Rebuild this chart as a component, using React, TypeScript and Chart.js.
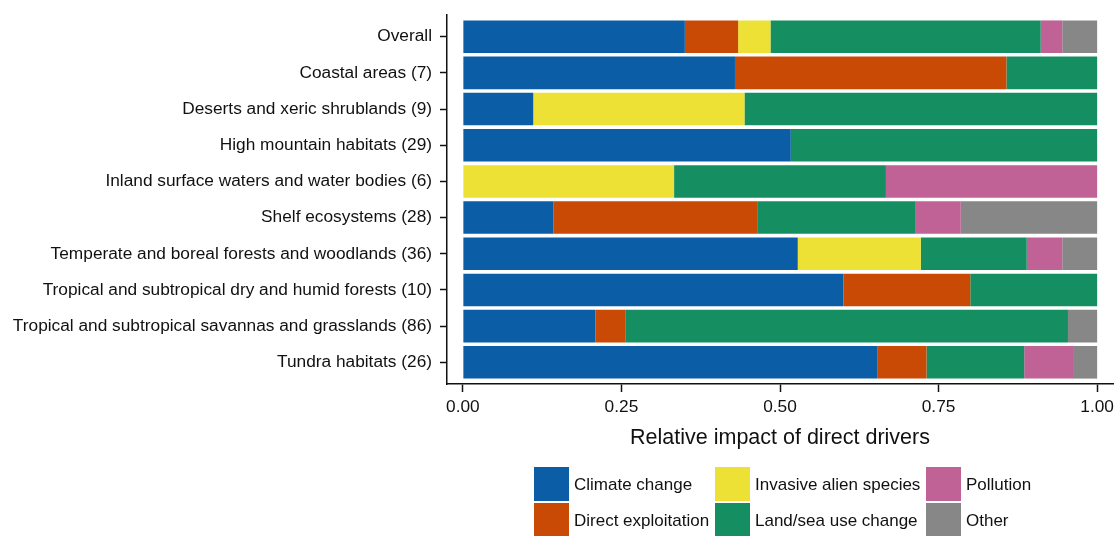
import React, { useEffect, useRef } from "react";
import { Chart, registerables } from "chart.js";

Chart.register(...registerables);

const categories = [
  "Overall",
  "Coastal areas (7)",
  "Deserts and xeric shrublands (9)",
  "High mountain habitats (29)",
  "Inland surface waters and water bodies (6)",
  "Shelf ecosystems (28)",
  "Temperate and boreal forests and woodlands (36)",
  "Tropical and subtropical dry and humid forests (10)",
  "Tropical and subtropical savannas and grasslands (86)",
  "Tundra habitats (26)",
];

const climateChange = [0.35, 0.429, 0.111, 0.517, 0, 0.143, 0.528, 0.6, 0.209, 0.654];
const directExploitation = [0.084, 0.428, 0, 0, 0, 0.321, 0, 0.2, 0.047, 0.077];
const invasiveAlienSpecies = [0.051, 0, 0.333, 0, 0.333, 0, 0.194, 0, 0, 0];
const landSeaUseChange = [0.426, 0.143, 0.556, 0.483, 0.334, 0.25, 0.167, 0.2, 0.698, 0.154];
const pollution = [0.034, 0, 0, 0, 0.333, 0.071, 0.056, 0, 0, 0.077];
const other = [0.055, 0, 0, 0, 0, 0.215, 0.055, 0, 0.046, 0.038];

const seriesNames = [
  "Climate change",
  "Direct exploitation",
  "Invasive alien species",
  "Land/sea use change",
  "Pollution",
  "Other",
];
const seriesColors = ["#0b5ea5", "#c94a04", "#ece134", "#158f62", "#c06296", "#878787"];
const xTickValues = [0, 0.25, 0.5, 0.75, 1];
const xTitle = "Relative impact of direct drivers";

const FONT = "'Liberation Sans', Arial, Helvetica, sans-serif";
const TEXT = "#111111";

const legendPlugin = {
  id: "gridLegend",
  afterDraw(chart: any) {
    const ctx = chart.ctx;
    const colX = [534, 715, 926];
    const rowY = [467, 503];
    const w = 35;
    const h = 34;
    ctx.save();
    ctx.font = `17px ${FONT}`;
    ctx.textBaseline = "middle";
    ctx.textAlign = "left";
    chart.data.datasets.forEach((ds: any, i: number) => {
      const c = Math.floor(i / 2);
      const r = i % 2;
      const x = colX[c];
      const y = rowY[r];
      ctx.fillStyle = ds.backgroundColor;
      ctx.fillRect(x, y, w, h);
      ctx.fillStyle = TEXT;
      ctx.fillText(ds.label, x + w + 5, y + h / 2 + 1);
    });
    ctx.restore();
  },
};

export default function App() {
  const canvasRef = useRef<HTMLCanvasElement | null>(null);

  useEffect(() => {
    const canvas = canvasRef.current;
    if (!canvas) return;
    const seriesValues = [
      climateChange,
      directExploitation,
      invasiveAlienSpecies,
      landSeaUseChange,
      pollution,
      other,
    ];
    const chart = new Chart(canvas, {
      type: "bar",
      data: {
        labels: categories,
        datasets: seriesValues.map((vals, i) => ({
          label: seriesNames[i],
          data: vals,
          backgroundColor: seriesColors[i],
          borderWidth: 0,
          barPercentage: 0.9,
          categoryPercentage: 1,
        })),
      },
      options: {
        indexAxis: "y",
        animation: false,
        responsive: false,
        maintainAspectRatio: false,
        devicePixelRatio: 1,
        layout: { padding: { top: 15, right: 2, bottom: 0, left: 0 } },
        plugins: {
          legend: { display: false },
          tooltip: { enabled: false },
        },
        scales: {
          x: {
            type: "linear",
            stacked: true,
            min: -0.025,
            max: 1.025,
            afterBuildTicks: (scale: any) => {
              scale.ticks = xTickValues.map((v) => ({ value: v }));
            },
            afterFit: (scale: any) => {
              scale.height = 536 - 384;
              scale.paddingLeft = 0;
              scale.paddingRight = 0;
            },
            grid: {
              drawOnChartArea: false,
              drawTicks: true,
              tickLength: 8,
              tickWidth: 1.5,
              tickColor: "#111111",
            },
            border: { display: true, color: "#111111", width: 1.5 },
            ticks: {
              padding: 5,
              color: TEXT,
              font: { family: FONT, size: 17.3 },
              maxRotation: 0,
              callback: (v: any) => Number(v).toFixed(2),
            },
            title: {
              display: true,
              text: xTitle,
              color: TEXT,
              font: { family: FONT, size: 21.5 },
              padding: { top: 0, bottom: 85 },
            },
          },
          y: {
            type: "category",
            stacked: true,
            offset: true,
            afterBuildTicks: (scale: any) => {
              scale._startValue = -0.6;
              scale._valueRange = categories.length - 1 + 1.2;
            },
            afterFit: (scale: any) => {
              scale.width = 447;
              scale.paddingTop = 0;
              scale.paddingBottom = 0;
            },
            grid: {
              offset: false,
              drawOnChartArea: false,
              drawTicks: true,
              tickLength: 7,
              tickWidth: 1.5,
              tickColor: "#111111",
            },
            border: { display: true, color: "#111111", width: 1.5 },
            ticks: {
              padding: 8,
              color: TEXT,
              font: { family: FONT, size: 17.3 },
              autoSkip: false,
            },
          },
        },
      },
      plugins: [legendPlugin],
    } as any);
    return () => chart.destroy();
  }, []);

  return (
    <div style={{ position: "absolute", left: 0, top: 0, width: 1115, height: 536, background: "#ffffff" }}>
      <canvas ref={canvasRef} width={1115} height={536} style={{ display: "block" }} />
    </div>
  );
}
